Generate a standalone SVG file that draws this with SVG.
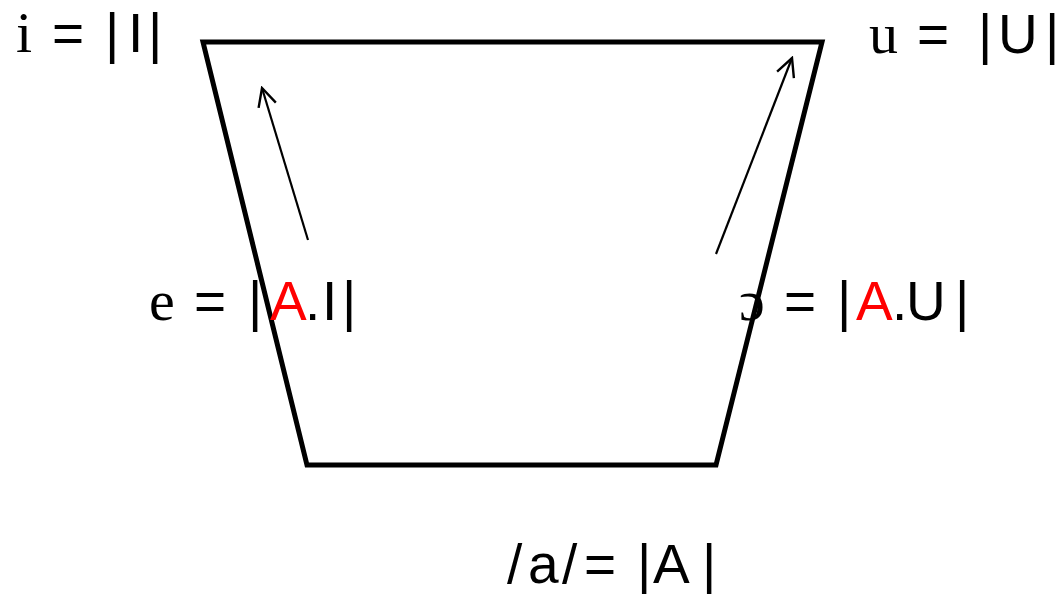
<svg xmlns="http://www.w3.org/2000/svg" width="1060" height="594" viewBox="0 0 1060 594">
<style>
.serif{font-family:"Liberation Serif","DejaVu Serif",serif;font-size:58px;fill:#000}
.sans{font-family:"Liberation Sans",Arial,sans-serif;font-size:55px;fill:#000}
.red{fill:#ff0000}
.shape{fill:none;stroke:#000;stroke-width:5;stroke-linejoin:miter}
.arrow{fill:none;stroke:#000;stroke-width:2.2}
</style>
<defs>
<marker id="open" viewBox="0 0 22 22" refX="20" refY="11" markerWidth="22" markerHeight="22" markerUnits="userSpaceOnUse" orient="auto">
<path d="M2,2 L20,11 L2,20" fill="none" stroke="#000" stroke-width="2.4"/>
</marker>
</defs>
<g id="trapezoid">
<polygon class="shape" points="203,42 822,42 716,465 307,465"/>
</g>
<g id="connectors">
<line class="arrow" x1="308" y1="240" x2="262" y2="88" marker-end="url(#open)"/>
<line class="arrow" x1="716" y1="254" x2="792" y2="58" marker-end="url(#open)"/>
</g>
<g id="node-i">
<text y="52"><tspan class="serif" x="16">i</tspan><tspan class="sans" x="52">=</tspan><tspan class="sans" x="105">|</tspan><tspan class="sans" x="128">I</tspan><tspan class="sans" x="148">|</tspan></text>
</g>
<g id="node-u">
<text y="53"><tspan class="serif" x="869">u</tspan><tspan class="sans" x="917">=</tspan><tspan class="sans" x="978">|</tspan><tspan class="sans" x="998">U</tspan><tspan class="sans" x="1045">|</tspan></text>
</g>
<g id="node-e">
<text y="320"><tspan class="serif" x="149">e</tspan><tspan class="sans" x="194">=</tspan><tspan class="sans" x="248">|</tspan><tspan class="sans red" x="270">A</tspan><tspan class="sans" x="305">.</tspan><tspan class="sans" x="322">I</tspan><tspan class="sans" x="342">|</tspan></text>
</g>
<g id="node-o">
<text y="320"><tspan class="serif" x="739">ɔ</tspan><tspan class="sans" x="784">=</tspan><tspan class="sans" x="837">|</tspan><tspan class="sans red" x="856">A</tspan><tspan class="sans" x="892">.</tspan><tspan class="sans" x="906">U</tspan><tspan class="sans" x="955">|</tspan></text>
</g>
<g id="node-a">
<text y="583"><tspan class="sans" x="507">/</tspan><tspan class="sans" x="528">a</tspan><tspan class="sans" x="562">/</tspan><tspan class="sans" x="584">=</tspan><tspan class="sans" x="637">|</tspan><tspan class="sans" x="653">A</tspan><tspan class="sans" x="702">|</tspan></text>
</g>
</svg>
